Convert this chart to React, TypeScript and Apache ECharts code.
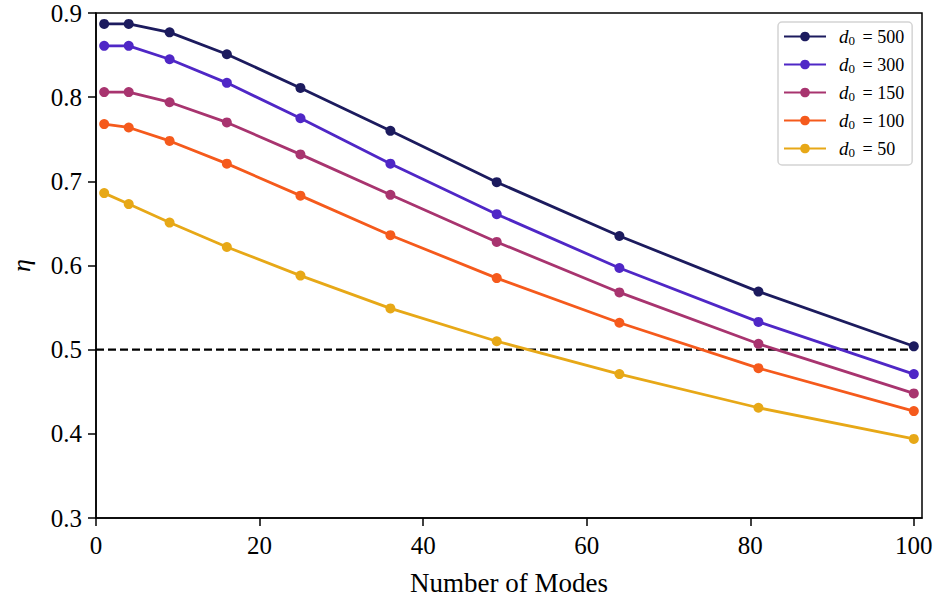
import React, { useEffect, useRef } from "react";
import * as echarts from "echarts";

const modes = [1, 4, 9, 16, 25, 36, 49, 64, 81, 100];
const d0Values = [500, 300, 150, 100, 50];
const eta500 = [0.887, 0.887, 0.877, 0.851, 0.811, 0.76, 0.699, 0.635, 0.569, 0.504];
const eta300 = [0.861, 0.861, 0.845, 0.817, 0.775, 0.721, 0.661, 0.597, 0.533, 0.471];
const eta150 = [0.806, 0.806, 0.794, 0.77, 0.732, 0.684, 0.628, 0.568, 0.507, 0.448];
const eta100 = [0.768, 0.764, 0.748, 0.721, 0.683, 0.636, 0.585, 0.532, 0.478, 0.427];
const eta50 = [0.686, 0.673, 0.651, 0.622, 0.588, 0.549, 0.51, 0.471, 0.431, 0.394];
const etaSeries = [eta500, eta300, eta150, eta100, eta50];
const colors = ["#1c1b5e", "#4f27c6", "#a8346f", "#f55a1c", "#e7a817"];
const xTicks = [0, 20, 40, 60, 80, 100];
const threshold = 0.5;

const FONT = "Liberation Serif";

export default function App() {
  const ref = useRef<HTMLDivElement>(null);
  useEffect(() => {
    const chart = echarts.init(ref.current!, null, { renderer: "svg" });
    const names = d0Values.map((d) => `d0 = ${d}`);
    const series: any[] = [
      {
        type: "line",
        name: "threshold",
        data: [
          [0, threshold],
          [100, threshold],
        ],
        symbol: "none",
        lineStyle: { color: "#000", width: 2.2, type: [8, 4] },
        z: 1,
        silent: true,
      },
    ];
    etaSeries.forEach((arr, i) => {
      series.push({
        type: "line",
        name: names[i],
        data: modes.map((m, j) => [m, arr[j]]),
        symbol: "circle",
        symbolSize: 10,
        color: colors[i],
        lineStyle: { color: colors[i], width: 2.8 },
        itemStyle: { color: colors[i] },
        z: 3,
      });
    });
    chart.setOption({
      animation: false,
      backgroundColor: "#fff",
      grid: {
        left: 95,
        right: 15,
        top: 13,
        bottom: 81,
        show: true,
        borderColor: "#000",
        borderWidth: 1.5,
        backgroundColor: "transparent",
      },
      legend: {
        orient: "vertical",
        left: 778,
        top: 22,
        data: names,
        padding: [5, 8, 6, 5],
        itemWidth: 42,
        itemHeight: 12,
        itemGap: 8,
        backgroundColor: "#fff",
        borderColor: "#d4d4d4",
        borderWidth: 1.5,
        borderRadius: 4,
        formatter: (name: string) => {
          const v = name.split("= ")[1];
          return `{it|d}{sub|0}{txt| = ${v}}`;
        },
        textStyle: {
          fontFamily: FONT,
          fontSize: 18,
          color: "#000",
          rich: {
            it: { fontFamily: FONT, fontStyle: "italic", fontSize: 19, color: "#000", padding: [0, 0, 0, 8] },
            sub: { fontFamily: FONT, fontSize: 13, color: "#000", padding: [8, 3, 0, 0] },
            txt: { fontFamily: FONT, fontSize: 18, color: "#000" },
          },
        },
      },
      xAxis: {
        type: "value",
        min: 0,
        max: 101,
        name: "Number of Modes",
        nameLocation: "middle",
        nameGap: 51,
        nameTextStyle: { fontFamily: FONT, fontSize: 27, color: "#000" },
        axisLine: { show: true, lineStyle: { color: "#000", width: 1.5 } },
        axisTick: { show: true, length: 8, customValues: xTicks, lineStyle: { color: "#000", width: 1.5 } },
        axisLabel: {
          customValues: xTicks,
          fontFamily: FONT,
          fontSize: 25,
          color: "#000",
          margin: 15,
        },
        splitLine: { show: false },
      },
      yAxis: {
        type: "value",
        min: 0.3,
        max: 0.9,
        interval: 0.1,
        name: "η",
        nameLocation: "middle",
        nameRotate: 90,
        nameGap: 62,
        nameTextStyle: { fontFamily: FONT, fontStyle: "italic", fontSize: 26, color: "#000" },
        axisLine: { show: true, lineStyle: { color: "#000", width: 1.5 } },
        axisTick: { show: true, length: 8, lineStyle: { color: "#000", width: 1.5 } },
        axisLabel: {
          fontFamily: FONT,
          fontSize: 25,
          color: "#000",
          margin: 14,
          formatter: (v: number) => v.toFixed(1),
        },
        splitLine: { show: false },
      },
      series,
    });
    return () => chart.dispose();
  }, []);
  return (
    <div
      ref={ref}
      style={{ position: "absolute", left: 0, top: 0, width: 937, height: 601 }}
    />
  );
}
